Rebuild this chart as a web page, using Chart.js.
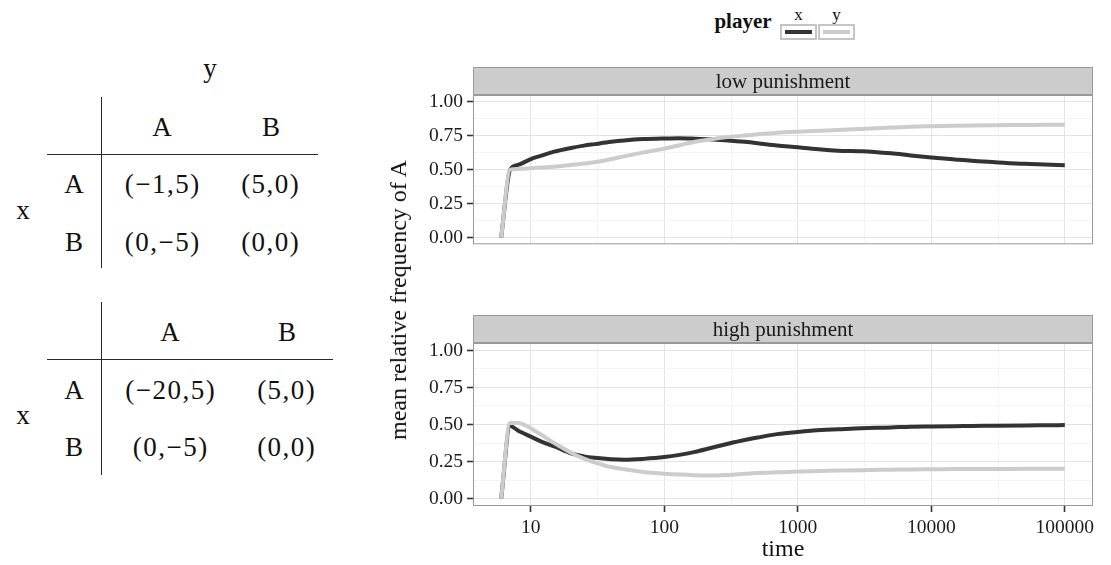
<!DOCTYPE html>
<html>
<head>
<meta charset="utf-8">
<script src="https://cdn.jsdelivr.net/npm/chart.js@4.4.0/dist/chart.umd.min.js"></script>
<style>
  body { margin: 0; background: #fff; }
  #wrap { position: relative; width: 1111px; height: 565px; overflow: hidden;
          font-family: "Liberation Serif", serif; color: #111; }
  .t { position: absolute; white-space: nowrap; line-height: 1; transform: translateX(-50%); }
  .ln { position: absolute; background: #2a2a2a; }
  canvas { position: absolute; }
  .key { position: absolute; width: 33px; height: 12px; border: 2px solid #c4c4c4; background: #fff; }
  .key i { position: absolute; left: 3px; right: 3px; top: 4px; height: 4px; }
</style>
</head>
<body>
<div id="wrap">
  <canvas id="low" width="731" height="200" style="left:380px;top:60px"></canvas>
  <canvas id="high" width="731" height="245" style="left:380px;top:308px"></canvas>
</div>
<script>
// time points (log axis) and mean relative frequency of A
const times = [6, 7, 8, 10, 12, 15, 20, 25, 30, 40, 50, 70, 100, 130, 170, 230, 300, 400, 500, 700,
  1000, 1500, 2000, 3000, 5000, 7000, 10000, 15000, 20000, 30000, 50000, 70000, 100000];

const lowX = [0, 0.50, 0.535, 0.578, 0.603, 0.633, 0.66, 0.677, 0.688, 0.705, 0.715, 0.725, 0.73, 0.732, 0.728,
  0.722, 0.715, 0.705, 0.695, 0.678, 0.665, 0.648, 0.64, 0.636, 0.62, 0.605, 0.59, 0.575, 0.565, 0.555,
  0.543, 0.538, 0.533];
const lowY = [0, 0.50, 0.505, 0.51, 0.515, 0.522, 0.535, 0.545, 0.555, 0.578, 0.598, 0.627, 0.655, 0.68, 0.705,
  0.725, 0.74, 0.752, 0.76, 0.772, 0.78, 0.787, 0.792, 0.8, 0.81, 0.816, 0.82, 0.824, 0.826, 0.828,
  0.829, 0.83, 0.83];
const highX = [0, 0.49, 0.46, 0.418, 0.385, 0.352, 0.305, 0.285, 0.275, 0.265, 0.262, 0.268, 0.28, 0.295, 0.315,
  0.345, 0.37, 0.395, 0.412, 0.435, 0.45, 0.463, 0.468, 0.475, 0.48, 0.485, 0.487, 0.489, 0.49, 0.492,
  0.494, 0.495, 0.496];
const highY = [0, 0.51, 0.51, 0.475, 0.43, 0.375, 0.31, 0.27, 0.245, 0.213, 0.198, 0.18, 0.168, 0.162, 0.158,
  0.156, 0.16, 0.167, 0.172, 0.177, 0.182, 0.186, 0.189, 0.192, 0.195, 0.197, 0.198, 0.199, 0.2, 0.2,
  0.201, 0.201, 0.202];

const xBreaks = [10, 100, 1000, 10000, 100000];
const yBreaks = [0, 0.25, 0.5, 0.75, 1];

const players = ["x", "y"];
const colors = ["#333333", "#cccccc"];

// payoff tables
const strategies = ["A", "B"];
const payoffLow = [["(−1,5)", "(5,0)"], ["(0,−5)", "(0,0)"]];
const payoffHigh = [["(−20,5)", "(5,0)"], ["(0,−5)", "(0,0)"]];

const wrap = document.getElementById("wrap");

function put(txt, cx, base, size, bold, spacing) {
  const d = document.createElement("div");
  d.className = "t";
  d.textContent = txt;
  d.style.fontSize = size + "px";
  d.style.left = (cx + (spacing ? spacing / 2 : 0)) + "px";
  d.style.top = (base - 0.8375 * size) + "px";
  if (bold) d.style.fontWeight = "bold";
  if (spacing) d.style.letterSpacing = spacing + "px";
  wrap.appendChild(d);
  return d;
}
function line(x, y, w, h) {
  const d = document.createElement("div");
  d.className = "ln";
  d.style.left = x + "px"; d.style.top = y + "px";
  d.style.width = w + "px"; d.style.height = h + "px";
  wrap.appendChild(d);
}

const TS = 27, SP = 1.5;
// table 1 (low punishment)
put("y", 210, 78, TS);
line(101, 97, 1.4, 171);
line(47, 153.6, 271, 1.4);
put(strategies[0], 162, 137, TS); put(strategies[1], 271, 137, TS);
put(strategies[0], 74, 194, TS); put(payoffLow[0][0], 162, 194, TS, false, SP); put(payoffLow[0][1], 270, 194, TS, false, SP);
put(strategies[1], 74, 252, TS); put(payoffLow[1][0], 162, 252, TS, false, SP); put(payoffLow[1][1], 270, 252, TS, false, SP);
put("x", 23, 220, TS);

// table 2 (high punishment)
line(101, 302, 1.4, 173);
line(47, 358.6, 286, 1.4);
put(strategies[0], 170, 342, TS); put(strategies[1], 287, 342, TS);
put(strategies[0], 74, 400, TS); put(payoffHigh[0][0], 170, 400, TS, false, SP); put(payoffHigh[0][1], 286, 400, TS, false, SP);
put(strategies[1], 74, 457, TS); put(payoffHigh[1][0], 170, 457, TS, false, SP); put(payoffHigh[1][1], 286, 457, TS, false, SP);
put("x", 23, 425, TS);

// legend
put("player", 743, 29, 21, true);
players.forEach(function (p, i) {
  const left = 780 + i * 38;
  const k = document.createElement("div");
  k.className = "key";
  k.style.left = left + "px"; k.style.top = "24px";
  const bar = document.createElement("i");
  bar.style.background = colors[i];
  k.appendChild(bar);
  wrap.appendChild(k);
  put(p, left + 18.5, 20, 17);
});

// axis titles
const yt = document.createElement("div");
yt.className = "t";
yt.textContent = "mean relative frequency of A";
yt.style.fontSize = "24px";
yt.style.left = "398px"; yt.style.top = "300px";
yt.style.transform = "translate(-50%,-50%) rotate(-90deg)";
wrap.appendChild(yt);
put("time", 783, 556, 24);

Chart.defaults.font.family = '"Liberation Serif", serif';
Chart.defaults.color = "#1a1a1a";

const lmin = Math.log10(times[0]), lmax = Math.log10(times[times.length - 1]);
const span = lmax - lmin;
const xMin = Math.pow(10, lmin - 0.05 * span), xMax = Math.pow(10, lmax + 0.05 * span);

function isMajorX(v) { const l = Math.log10(v); return Math.abs(l - Math.round(l)) < 1e-6; }
function isMajorY(v) { return Math.abs(v * 4 - Math.round(v * 4)) < 1e-6; }

const stripPlugin = {
  id: "strip",
  afterDraw(chart, args, opts) {
    const ctx = chart.ctx, a = chart.chartArea;
    ctx.save();
    ctx.fillStyle = "#cccccc";
    ctx.fillRect(a.left, a.top - 28, a.right - a.left, 28);
    ctx.strokeStyle = "#999999";
    ctx.lineWidth = 1;
    ctx.strokeRect(a.left + 0.5, a.top - 27.5, a.right - a.left - 1, 27);
    ctx.strokeRect(a.left + 0.5, a.top + 0.5, a.right - a.left - 1, a.bottom - a.top - 1);
    ctx.fillStyle = "#1a1a1a";
    ctx.font = '21px "Liberation Serif"';
    ctx.textAlign = "center";
    ctx.textBaseline = "middle";
    ctx.fillText(opts.text, (a.left + a.right) / 2, a.top - 13);
    ctx.restore();
  }
};

function panel(id, title, xs, ys, showX) {
  const xMinor = [];
  for (let i = 0; i < xBreaks.length; i++) {
    xMinor.push(xBreaks[i]);
    const m = xBreaks[i] * Math.sqrt(10);
    if (m < xMax) xMinor.push(m);
  }
  const yAll = [];
  for (let i = 0; i < yBreaks.length; i++) {
    yAll.push(yBreaks[i]);
    if (i < yBreaks.length - 1) yAll.push((yBreaks[i] + yBreaks[i + 1]) / 2);
  }
  new Chart(document.getElementById(id), {
    type: "line",
    data: {
      labels: times,
      datasets: [
        { label: players[0], data: times.map((t, i) => ({ x: t, y: xs[i] })), borderColor: colors[0],
          borderWidth: 4, pointRadius: 0, cubicInterpolationMode: "monotone", borderJoinStyle: "round", order: 2 },
        { label: players[1], data: times.map((t, i) => ({ x: t, y: ys[i] })), borderColor: colors[1],
          borderWidth: 4, pointRadius: 0, cubicInterpolationMode: "monotone", borderJoinStyle: "round", order: 1 }
      ]
    },
    options: {
      responsive: false,
      animation: false,
      layout: { padding: { top: 35, right: 18, bottom: 2, left: 0 } },
      plugins: { legend: { display: false }, tooltip: { enabled: false }, strip: { text: title } },
      scales: {
        x: {
          type: "logarithmic",
          min: xMin, max: xMax,
          afterBuildTicks: function (axis) { axis.ticks = xMinor.map(v => ({ value: v })); },
          afterFit: function (axis) { axis.height = showX ? 45 : 0; },
          border: { display: false },
          grid: {
            color: c => isMajorX(c.tick.value) ? "#e4e4e4" : "#f4f4f4",
            tickColor: c => isMajorX(c.tick.value) ? "#333333" : "rgba(0,0,0,0)",
            tickWidth: 1.6,
            tickLength: 6,
            drawTicks: showX
          },
          ticks: {
            display: showX,
            autoSkip: false, maxRotation: 0, padding: 4,
            font: { size: 19.5 },
            callback: v => isMajorX(v) ? String(Math.round(v)) : ""
          }
        },
        y: {
          min: -0.05, max: 1.05,
          afterBuildTicks: function (axis) { axis.ticks = yAll.map(v => ({ value: v })); },
          afterFit: function (axis) { axis.width = 93; },
          border: { display: false },
          grid: {
            color: c => isMajorY(c.tick.value) ? "#e4e4e4" : "#f4f4f4",
            tickColor: c => isMajorY(c.tick.value) ? "#333333" : "rgba(0,0,0,0)",
            tickWidth: 1.6,
            tickLength: 6
          },
          ticks: {
            autoSkip: false, padding: 4,
            font: { size: 19.5 },
            callback: v => isMajorY(v) ? v.toFixed(2) : ""
          }
        }
      }
    },
    plugins: [stripPlugin]
  });
}

panel("low", "low punishment", lowX, lowY, false);
panel("high", "high punishment", highX, highY, true);
</script>
</body>
</html>
